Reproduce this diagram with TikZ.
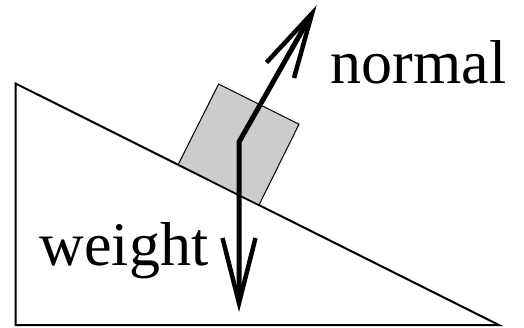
\documentclass[tikz,border=0pt]{standalone}
\usepackage{fontspec}
\setmainfont{Liberation Serif}
\begin{document}
\begin{tikzpicture}[x=1pt,y=-1pt,
  ramp/.style={draw=black,line width=2pt,line join=miter},
  blockbox/.style={draw=black,fill=black!20,line width=1pt,line join=miter},
  shaft/.style={draw=black,line width=5pt,line join=miter},
  barb/.style={draw=black,line width=4.5pt,line join=miter,line cap=butt},
  lbl/.style={inner sep=0pt,font=\fontsize{62}{62}\selectfont}]
\useasboundingbox (0,0) rectangle (524,327);
% incline
\coordinate (A) at (15.5,83.5);
\coordinate (B) at (15.5,325);
\coordinate (C) at (499,325);
\draw[ramp] (A) -- (B) -- (C) -- cycle;
% block
\coordinate (b1) at (178.3,164.4);
\coordinate (b2) at (259,204.9);
\coordinate (b3) at (299,124.3);
\coordinate (b4) at (218.6,84);
\draw[blockbox] (b1) -- (b2) -- (b3) -- (b4) -- cycle;
% force arrows
\coordinate (bend) at (239,142);
\coordinate (wtip) at (239,303);
\coordinate (wend) at (239,296);
\coordinate (wl) at (222.5,238);
\coordinate (wr) at (255.5,238);
\coordinate (ntip) at (312,13.5);
\coordinate (nend) at (308.5,19.5);
\coordinate (nl) at (266.5,62.5);
\coordinate (nr) at (294,78);
\draw[shaft] (wend) -- (bend) -- (nend);
\draw[barb] (wl) -- (wtip) -- (wr);
\draw[barb] (nl) -- (ntip) -- (nr);
% labels
\node[lbl,anchor=base west] (normal) at (330.5,83.3) {normal};
\node[lbl,anchor=base west] (weight) at (39.5,265) {weight};
\end{tikzpicture}
\end{document}
